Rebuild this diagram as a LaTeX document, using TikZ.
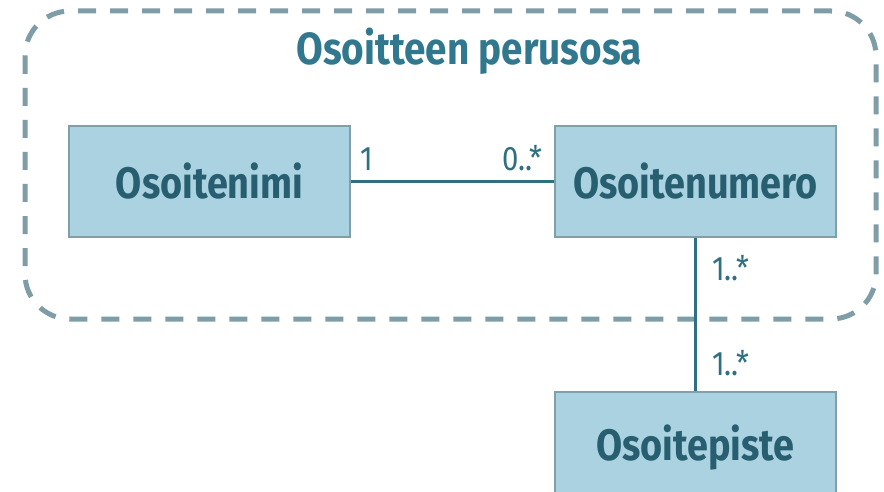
\documentclass[tikz,border=0pt]{standalone}
\usepackage{fontspec}
\newfontfamily\diagfont{Fira Sans}[FakeStretch=0.86]
\definecolor{dashcol}{HTML}{7F9DA6}
\definecolor{titlecol}{HTML}{31788F}
\definecolor{boxfill}{HTML}{ABD2E1}
\definecolor{boxline}{HTML}{7FA0AA}
\definecolor{boxtext}{HTML}{285F70}
\definecolor{linkcol}{HTML}{2E6F82}
\tikzset{
  classbox/.style={draw=boxline, line width=2pt, fill=boxfill, minimum width=281pt, minimum height=111pt, inner sep=0pt,
    text=boxtext, font=\diagfont\fontsize{44}{50}\selectfont\bfseries},
  multlabel/.style={text=linkcol, inner sep=0pt, font=\diagfont\fontsize{34}{38}\selectfont},
  link/.style={draw=linkcol, line width=3pt},
  package/.style={draw=dashcol, line width=5pt, dash pattern=on 18pt off 14pt, rounded corners=45pt}
}
\begin{document}
\begin{tikzpicture}[x=1pt,y=-1pt]
\useasboundingbox (0,0) rectangle (884,492);
\clip (0,0) rectangle (884,492);
\fill[white] (0,0) rectangle (884,492);
\draw[package] (25,11) rectangle (876,319);
\node[anchor=base, text=titlecol, inner sep=0pt, font=\diagfont\fontsize{45}{50}\selectfont\bfseries] (title) at (469,65) {Osoitteen perusosa};
\node[classbox] (nimi) at (209.5,181.5) {Osoitenimi};
\node[classbox] (numero) at (695.5,181.5) {Osoitenumero};
\node[classbox] (piste) at (695.5,447.5) {Osoitepiste};
\draw[link] (nimi.east) -- (numero.west);
\draw[link] (numero.south) -- (piste.north);
\node[multlabel, anchor=base west] (l1) at (360,171) {1};
\node[multlabel, anchor=base east] (l2) at (543,171) {0..*};
\node[multlabel, anchor=base west] (l3) at (712,280) {1..*};
\node[multlabel, anchor=base west] (l4) at (712,375) {1..*};
\end{tikzpicture}
\end{document}
